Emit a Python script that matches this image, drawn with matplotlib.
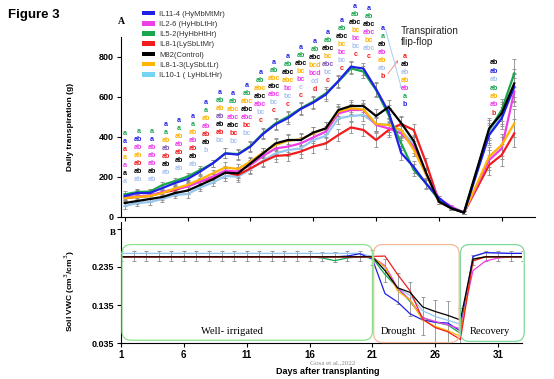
import numpy as np
import matplotlib.pyplot as plt
from matplotlib.patches import FancyBboxPatch, Patch
from matplotlib.transforms import IdentityTransform

plt.rcParams['font.family'] = ['Liberation Sans', 'DejaVu Sans']

# lines (legend order)
names = ["IL11-4 (HyMbMtMr)", "IL2-6 (HyHbLtHr)", "IL5-2(HyHbHtHr)", "IL8-1(LySbLtMr)",
         "M82(Control)", "IL8-1-3(LySbLtLr)", "IL10-1 ( LyHbLtHr)"]
line_colors = ["#1f1fe8", "#ee3ee6", "#19a64c", "#f21c1c", "#000000", "#ffb400", "#95c6f0"]
legend_colors = ["#1f1fe8", "#ee3ee6", "#19a64c", "#f21c1c", "#000000", "#ffb400", "#74d4f4"]

# panel A - daily transpiration (g)
days = [1, 2, 3, 4, 5, 6, 7, 8, 9, 10, 11, 12, 13, 14, 15, 16, 17, 18, 19, 20,
        21, 22, 23, 24, 25, 26, 27, 28, 30, 31, 32]
il11_4 = [105, 120, 120, 145, 170, 190, 227, 268, 318, 312, 352, 415, 463, 495, 540, 572, 612, 680, 752, 742,
          640, 525, 320, 250, 165, 95, 45, 22, 410, 493, 652]
il2_6 = [100, 103, 108, 125, 140, 152, 177, 202, 232, 227, 260, 305, 343, 352, 368, 398, 427, 518, 535, 535,
         460, 443, 418, 352, 215, 93, 52, 22, 285, 343, 627]
il5_2 = [113, 125, 127, 160, 180, 202, 235, 268, 318, 315, 355, 418, 468, 502, 543, 577, 618, 677, 743, 727,
         635, 510, 368, 235, 168, 85, 43, 22, 435, 535, 718]
il8_1 = [95, 100, 105, 122, 135, 155, 177, 195, 222, 210, 243, 277, 305, 310, 327, 352, 368, 410, 448, 435,
         385, 435, 465, 435, 268, 77, 43, 22, 260, 310, 418]
m82 = [70, 80, 90, 100, 120, 132, 160, 188, 222, 218, 268, 318, 368, 385, 385, 422, 443, 535, 555, 555,
       505, 550, 470, 380, 218, 77, 43, 22, 443, 518, 668]
il8_1_3 = [95, 100, 105, 120, 143, 160, 188, 218, 248, 240, 277, 322, 360, 382, 388, 418, 443, 527, 543, 538,
           465, 460, 435, 335, 210, 77, 45, 22, 302, 360, 468]
il10_1 = [55, 70, 75, 90, 110, 115, 147, 172, 205, 202, 238, 282, 318, 335, 343, 385, 405, 493, 505, 510,
          465, 460, 430, 368, 210, 85, 45, 22, 418, 510, 643]
transp_err = [15, 15, 15, 15, 15, 18, 18, 18, 25, 25, 25, 25, 28, 28, 30, 30, 30, 30, 30, 30,
              35, 35, 35, 30, 25, 12, 10, 8, 50, 55, 70]
transp = [il11_4, il2_6, il5_2, il8_1, m82, il8_1_3, il10_1]

# mean separation letters, one column per day group (top row first)
letter_cols = [
    ["a", "a", "a", "a", "a", "a", "a"],
    ["a", "ab", "ab", "ab", "ab", "ab", "ab"],
    ["a", "a", "ab", "ab", "ab", "ab", "ab"],
    ["a", "a", "ab", "ab", "ab", "ab", "ab"],
    ["a", "a", "ab", "ab", "ab", "ab", "ab"],
    ["a", "a", "ab", "ab", "ab", "ab", "ab"],
    ["a", "a", "ab", "ab", "ab", "ab", "b"],
    ["a", "ab", "ab", "ab", "ab", "ab", "bc"],
    ["a", "ab", "abc", "abc", "abc", "bc", "bc"],
    ["a", "ab", "abc", "abc", "abc", "bc", "bc"],
    ["a", "ab", "abc", "abc", "abc", "bc", "c"],
    ["a", "ab", "abc", "abc", "abc", "bc", "c"],
    ["a", "ab", "abc", "abc", "bc", "bc", "c"],
    ["a", "ab", "abc", "bc", "bc", "c", "c"],
    ["a", "ab", "abc", "bcd", "bcd", "cd", "d"],
    ["a", "ab", "abc", "bc", "abc", "bc", "c"],
    ["a", "ab", "abc", "bc", "bc", "bc", "c"],
    ["a", "ab", "abc", "bc", "bc", "bc", "c"],
    ["a", "ab", "abc", "abc", "bc", "abc", "c"],
    ["a", "a", "ab", "ab", "ab", "ab", "b"],
]
letter_col_colors = ["gbropkl", "gbporkl", "gbpppkl", "bgovrkl", "bgoprkl", "bgoprkl", "bgoprkl",
                     "bgovkrl", "bgopkrl", "bgokprl", "bgokplr", "bgokplr", "bgkoplr", "bgkoplr",
                     "bgkoplr", "bgkovlr", "bgkoplr", "bgkoplr", "bgkpolr", "bgkpolr"]
flip_letters = ["a", "ab", "ab", "ab", "ab", "a", "b"]
flip_colors = "rklopgb"
recov_letters = ["ab", "ab", "ab", "ab", "ab", "ab", "b"]
recov_colors = "kblgopr"
letter_palette = {"b": "#2323e6", "g": "#19a64c", "r": "#f21c1c", "k": "#000000",
                  "o": "#ffb400", "p": "#f03cf0", "l": "#a9c3ee", "v": "#7e55b5"}

# panel B - soil VWC (cm3/cm3)
vwc_days = list(range(1, 34))
vwc_il11_4 = [0.261] * 18 + [0.263, 0.269, 0.255, 0.165, 0.143, 0.112, 0.096, 0.090, 0.088, 0.067,
                             0.262, 0.272, 0.271, 0.270, 0.270]
vwc_il2_6 = [0.261] * 20 + [0.260, 0.238, 0.180, 0.148, 0.102, 0.092, 0.083, 0.073,
                            0.225, 0.250, 0.258, 0.261, 0.261]
vwc_il5_2 = [0.261] * 16 + [0.258, 0.251, 0.258, 0.261, 0.258, 0.215, 0.180, 0.144, 0.102, 0.090, 0.083, 0.061,
                            0.255, 0.261, 0.261, 0.261, 0.261]
vwc_il8_1 = [0.261] * 20 + [0.262, 0.263, 0.215, 0.172, 0.098, 0.076, 0.065, 0.045,
                            0.250, 0.261, 0.261, 0.261, 0.261]
vwc_m82 = [0.261] * 20 + [0.261, 0.225, 0.180, 0.168, 0.130, 0.118, 0.108, 0.096,
                          0.255, 0.261, 0.261, 0.261, 0.261]
vwc_il8_1_3 = [0.261] * 20 + [0.260, 0.235, 0.172, 0.148, 0.096, 0.079, 0.068, 0.053,
                              0.255, 0.261, 0.261, 0.261, 0.261]
vwc_il10_1 = [0.270] * 20 + [0.262, 0.232, 0.180, 0.160, 0.120, 0.105, 0.095, 0.085,
                             0.262, 0.272, 0.271, 0.270, 0.270]
vwc_err = [0.013] * 20 + [0.02, 0.03, 0.04, 0.045, 0.05, 0.055, 0.06, 0.058,
                          0.013, 0.013, 0.013, 0.013, 0.013]
vwc = [vwc_il11_4, vwc_il2_6, vwc_il5_2, vwc_il8_1, vwc_m82, vwc_il8_1_3, vwc_il10_1]

W, H = 554, 379
fig = plt.figure(figsize=(W / 100, H / 100), dpi=100)


def fx(px):
    return px / W


def fy(py):
    return 1 - py / H


# ---------------- panel A
axA = fig.add_axes([fx(121), fy(217), fx(535 - 121), (217 - 37) / H])
draw_order = [6, 3, 1, 5, 2, 0, 4]
for i in draw_order:
    axA.errorbar(days, transp[i], yerr=transp_err, fmt="none", ecolor="#8c8c8c",
                 elinewidth=0.6, capsize=1.3, capthick=0.6, zorder=1)
for i in draw_order:
    axA.plot(days, transp[i], color=line_colors[i], lw=1.6, zorder=3)

axA.set_xlim(0.7, 33.65)
axA.set_ylim(0, 900)
axA.set_xticks([1, 6, 11, 16, 21, 26, 31])
axA.set_xticklabels([])
axA.set_yticks([0, 200, 400, 600, 800])
axA.tick_params(axis="y", labelsize=6.5, length=3, width=0.8, pad=2)
axA.tick_params(axis="x", length=3, width=0.8)
for lab in axA.get_yticklabels():
    lab.set_fontweight("bold")
for s in ["top", "right"]:
    axA.spines[s].set_visible(False)

# letter stacks above the lines
arr = np.array(transp)
dd = np.array(days)
col_x = np.linspace(1, 21.5, len(letter_cols))
step = 40
for x, letters, cols in zip(col_x, letter_cols, letter_col_colors):
    near = np.abs(dd - x) <= 0.6
    base = arr[:, near].max() + 45
    n = len(letters)
    for k, (t, c) in enumerate(zip(letters, cols)):
        axA.text(x, base + (n - 1 - k) * step, t, color=letter_palette[c], fontsize=5.1,
                 fontweight="bold", ha="center", va="bottom", clip_on=False, zorder=5)

for k, (t, c) in enumerate(zip(flip_letters, flip_colors)):
    axA.text(23.3, 800 - k * 40, t, color=letter_palette[c], fontsize=5.1,
             fontweight="bold", ha="center", va="center", clip_on=False, zorder=5)
for k, (t, c) in enumerate(zip(recov_letters, recov_colors)):
    axA.text(30.4, 770 - k * 42, t, color=letter_palette[c], fontsize=5.1,
             fontweight="bold", ha="center", va="center", clip_on=False, zorder=5)

axA.annotate("", xy=(22.9, 795), xytext=(21.8, 705),
             arrowprops=dict(arrowstyle="->", color="#f26b6b", lw=0.5, mutation_scale=4), annotation_clip=False)
axA.annotate("", xy=(23.1, 625), xytext=(21.7, 950),
             arrowprops=dict(arrowstyle="->", color="#9cc8ee", lw=0.6, mutation_scale=4), annotation_clip=False)
axA.text(23.0, 955, "Transpiration\nflip-flop", fontsize=7.2, color="#222222", ha="left", va="top",
         linespacing=1.1, clip_on=False)

handles = [Patch(facecolor=c, edgecolor="none") for c in legend_colors]
fig.legend(handles, names, loc="upper left", bbox_to_anchor=(fx(138), fy(7)), frameon=False,
           fontsize=5.5, handlelength=1.7, handleheight=0.55, handletextpad=0.6,
           labelspacing=0.42, borderpad=0, labelcolor="#333333")

# ---------------- panel B
axB = fig.add_axes([fx(121), fy(343.3), fx(522 - 121), (343.3 - 222) / H])
axB.set_xlim(1, 32.9)
axB.set_ylim(0.035, 0.352)

vwc_mean = np.array(vwc).mean(axis=0)
axB.errorbar(vwc_days, vwc_mean, yerr=vwc_err, fmt="none", ecolor="#8c8c8c",
             elinewidth=0.6, capsize=1.5, capthick=0.6, zorder=1)
for i in [6, 2, 0, 1, 5, 3, 4]:
    axB.plot(vwc_days, vwc[i], color=line_colors[i], lw=0.9, zorder=3)

axB.set_xticks([1, 6, 11, 16, 21, 26, 31])
axB.set_yticks([0.035, 0.135, 0.235, 0.335])
axB.set_yticklabels(["0.035", "0.135", "0.235", ""])
axB.tick_params(axis="both", length=3, width=0.8, pad=2)
axB.tick_params(axis="x", labelsize=7)
axB.tick_params(axis="y", labelsize=6.5)
for lab in axB.get_xticklabels() + axB.get_yticklabels():
    lab.set_fontweight("bold")
for s in ["top", "right"]:
    axB.spines[s].set_visible(False)

# phase boxes drawn in pixel space so corners stay round
boxes = [(1.08, 21.0, 0.043, 0.293, "#8fe08f"),
         (21.1, 27.9, 0.037, 0.293, "#f4b99a"),
         (28.0, 33.08, 0.040, 0.293, "#7fd99b")]
for x0, x1, y0, y1, ec in boxes:
    (px0, py0), (px1, py1) = axB.transData.transform([(x0, y0), (x1, y1)])
    fig.add_artist(FancyBboxPatch((px0, py0), px1 - px0, py1 - py0,
                                  boxstyle="round,pad=0,rounding_size=9",
                                  transform=IdentityTransform(), fill=False, ec=ec, lw=0.9))

serif = ["Liberation Serif", "DejaVu Serif"]
fig.text(fx(232), fy(332), "Well- irrigated", family=serif, fontsize=7.6, ha="center", va="center")
fig.text(fx(398), fy(332), "Drought", family=serif, fontsize=7.6, ha="center", va="center")
fig.text(fx(490), fy(332), "Recovery", family=serif, fontsize=7.6, ha="center", va="center")

# labels
fig.text(fx(8), fy(15), "Figure 3", fontsize=9.5, fontweight="bold", ha="left", va="center")
fig.text(fx(121), fy(21), "A", family=serif, fontsize=7, fontweight="bold", ha="center", va="center")
fig.text(fx(113), fy(233), "B", family=serif, fontsize=6.5, fontweight="bold", ha="center", va="center",
         zorder=10)
fig.text(fx(71), fy(127), "Daily transpiration (g)", rotation=90, fontsize=6, fontweight="bold",
         ha="center", va="center")
fig.text(fx(70), fy(291), "Soil VWC (cm$^3$/cm$^3$)", rotation=90, fontsize=6, fontweight="bold",
         ha="center", va="center")
fig.text(fx(328), fy(372), "Days after transplanting", fontsize=6.5, fontweight="bold",
         ha="center", va="center")
fig.text(fx(333), fy(363), "Gosa et al.,2022", family=serif, fontsize=5, color="#888888",
         ha="center", va="center")

fig.savefig("out.png", dpi=100)
